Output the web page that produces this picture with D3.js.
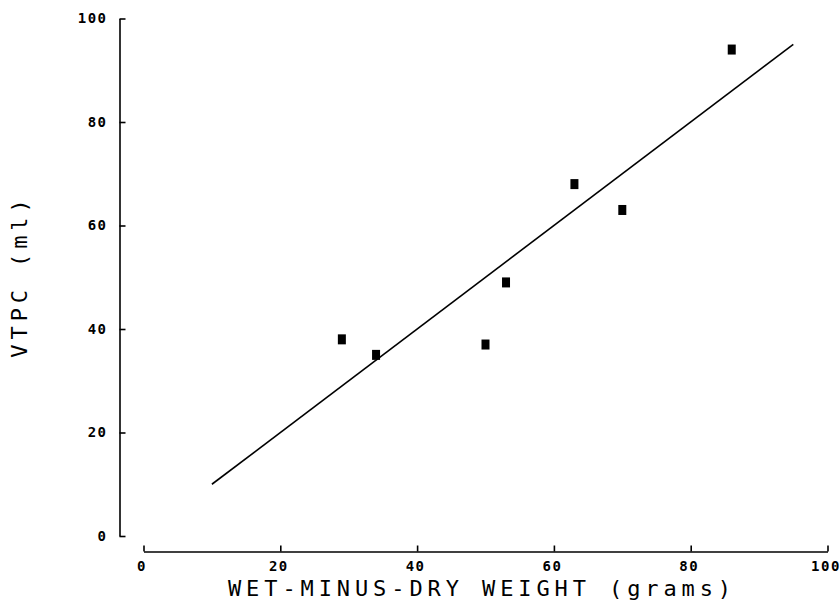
<!DOCTYPE html>
<html>
<head>
<meta charset="utf-8">
<script src="https://cdn.jsdelivr.net/npm/d3@7"></script>
<style>
    body { margin: 0; background: #ffffff; }
    .axis path, .axis line { stroke: #000000; stroke-width: 1.6; }
    .axis text { font-family: "DejaVu Sans Mono", monospace; font-size: 14px; font-weight: bold; letter-spacing: 1.5px; fill: #000000; }
    .title { font-family: "DejaVu Sans Mono", monospace; font-size: 22px; fill: #000000; letter-spacing: 4.9px; }
</style>
</head>
<body>
<div id="chart"></div>
<script>
var weightX = [29, 34, 50, 53, 63, 70, 86];
var vtpcY = [38, 35, 37, 49, 68, 63, 94];
var fitLineX = [10, 95];
var fitLineY = [10, 95];
var tickValues = [0, 20, 40, 60, 80, 100];

var width = 840,
    height = 614;

var svg = d3.select("#chart")
    .append("svg")
    .attr("width", width)
    .attr("height", height);

var x = d3.scaleLinear()
    .domain([0, 100])
    .range([143.5, 827.5]);

var y = d3.scaleLinear()
    .domain([0, 100])
    .range([536, 18.5]);

// y axis, ticks point inward
var yAxis = d3.axisLeft(y)
    .tickValues(tickValues)
    .tickSizeInner(-6)
    .tickSizeOuter(0)
    .tickPadding(12);
svg.append("g")
    .attr("class", "axis")
    .attr("transform", "translate(119.5,0)")
    .call(yAxis);

// x axis sits a bit below the y range
var xAxis = d3.axisBottom(x)
    .tickValues(tickValues)
    .tickSizeInner(-6)
    .tickSizeOuter(0)
    .tickPadding(10);
svg.append("g")
    .attr("class", "axis")
    .attr("transform", "translate(0,551.5)")
    .call(xAxis)
    .selectAll("text")
    .attr("dx", "-2");

// fitted line
var fit = fitLineX.map(function (d, i) { return { x: d, y: fitLineY[i] }; });
svg.append("path")
    .datum(fit)
    .attr("fill", "none")
    .attr("stroke", "#000000")
    .attr("stroke-width", 1.6)
    .attr("d", d3.line()
        .x(d => x(d.x))
        .y(d => y(d.y)));

// data points as small filled rectangles
var points = weightX.map(function (d, i) { return { x: d, y: vtpcY[i] }; });
svg.selectAll(".pt")
    .data(points)
    .enter()
    .append("rect")
    .attr("class", "pt")
    .attr("x", d => x(d.x) - 4)
    .attr("y", d => y(d.y) - 5)
    .attr("width", 8)
    .attr("height", 10)
    .attr("fill", "#000000");

// axis titles
svg.append("text")
    .attr("class", "title")
    .attr("x", 482)
    .attr("y", 596)
    .attr("text-anchor", "middle")
    .text("WET-MINUS-DRY WEIGHT (grams)");

svg.append("text")
    .attr("class", "title")
    .attr("transform", "translate(27,276) rotate(-90)")
    .attr("text-anchor", "middle")
    .text("VTPC (ml)");
</script>
</body>
</html>
